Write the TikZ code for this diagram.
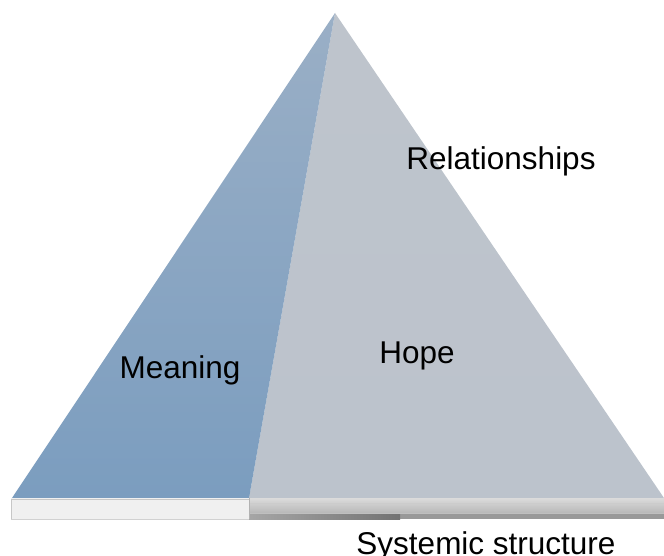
\documentclass[tikz,border=0pt]{standalone}
\usepackage{fontspec}
\setmainfont{Liberation Sans}
\begin{document}
\begin{tikzpicture}[x=1pt,y=-1pt,
  lbl/.style={font=\fontsize{31.5}{36}\selectfont, text=black, anchor=base, inner sep=0pt}]
\useasboundingbox (0,0) rectangle (664,556);
\definecolor{bluetop}{HTML}{9AAFC6}
\definecolor{bluebot}{HTML}{7B9DBF}
\definecolor{graytop}{HTML}{BEC4CC}
\definecolor{graybot}{HTML}{BCC3CC}
\coordinate (apex) at (335,13);
\coordinate (bl) at (12,498);
\coordinate (bm) at (249,498);
\coordinate (br) at (664,498);
% faces
\shade[top color=graytop, bottom color=graybot] (apex) -- (bm) -- (br) -- cycle;
\shade[top color=bluetop, bottom color=bluebot] (apex) -- (bl) -- (bm) -- cycle;
% base slab, left part
\fill[white!94!black] (11,498) rectangle (249,519);
\draw[black!22, line width=0.8pt] (11,519) -- (11,499) -- (249,499);
\draw[black!18, line width=0.8pt] (11,519) -- (249,519);
% base slab, right part
\shade[top color=black!14, bottom color=black!28] (249,498) rectangle (664,513);
\fill[black!40] (249,513) rectangle (664,519);
\shade[left color=black!35, right color=black!55] (249,513) rectangle (400,519);
\draw[white!80!black, line width=0.8pt] (249,503) -- (664,503);
\draw[white!75!black, line width=0.6pt] (249,513) -- (664,513);
\draw[black!30, line width=0.6pt] (249,498) -- (249,519);
% labels
\node[lbl] (rel) at (501,170) {Relationships};
\node[lbl] (hope) at (417,363) {Hope};
\node[lbl] (mean) at (180,378) {Meaning};
\node[lbl] (sys) at (486,554) {Systemic structure};
\end{tikzpicture}
\end{document}
